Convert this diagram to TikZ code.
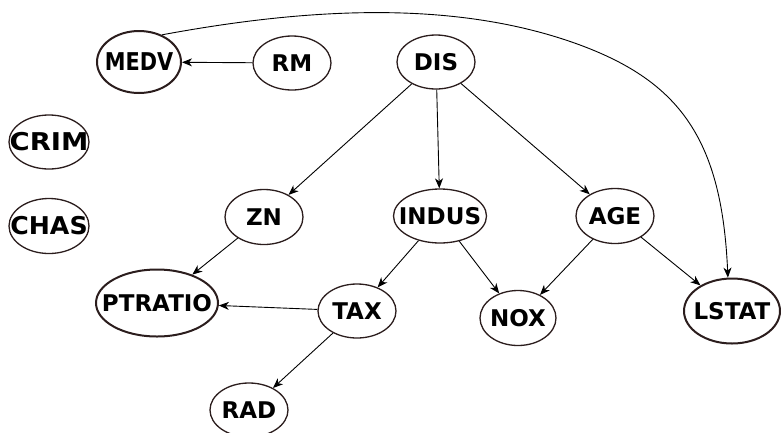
\documentclass[tikz,border=0pt]{standalone}
\usepackage{fontspec}
\usepackage{graphicx}
\setmainfont{DejaVu Sans}
\usetikzlibrary{shapes.geometric,arrows.meta}
\definecolor{rim}{HTML}{2B1D1D}
% label whose width does not widen the ellipse around it
\newcommand\vlabel[2][1]{\makebox[0pt][c]{\scalebox{#1}[1]{#2}}}
\begin{document}
\begin{tikzpicture}[x=1pt,y=-1pt,
  var/.style={ellipse,draw=rim,line width=1.3pt,inner sep=0pt,fill=white,
    font=\fontsize{23}{27}\selectfont\bfseries},
  big/.style={font=\fontsize{24.5}{28}\selectfont\bfseries},
  heavy/.style={line width=2pt},
  arr/.style={-{Stealth[length=10pt,width=8pt,inset=3pt]},line width=0.9pt,black}]
\useasboundingbox (0,0) rectangle (781,432);

% variables
\node[var,big,heavy,minimum width=84pt,minimum height=62pt] (MEDV) at (139,62) {\vlabel[0.85]{MEDV}};
\node[var,minimum width=78pt,minimum height=54pt] (RM) at (292,63) {\vlabel{RM}};
\node[var,minimum width=78pt,minimum height=54pt] (DIS) at (436,62) {\vlabel{DIS}};
\node[var,big,minimum width=80pt,minimum height=54pt] (CRIM) at (49,142) {\vlabel[1.12]{CRIM}};
\node[var,big,minimum width=80pt,minimum height=55pt] (CHAS) at (49,226) {\vlabel[1.03]{CHAS}};
\node[var,minimum width=78pt,minimum height=55pt] (ZN) at (264,217) {\vlabel{ZN}};
\node[var,minimum width=93pt,minimum height=54pt] (INDUS) at (440,216) {\vlabel{INDUS}};
\node[var,minimum width=78pt,minimum height=55pt] (AGE) at (615,216) {\vlabel{AGE}};
\node[var,heavy,minimum width=122pt,minimum height=67pt] (PTRATIO) at (157,303) {\vlabel{PTRATIO}};
\node[var,minimum width=78pt,minimum height=54pt] (TAX) at (357,311) {\vlabel{TAX}};
\node[var,minimum width=76pt,minimum height=55pt] (NOX) at (518,318) {\vlabel{NOX}};
\node[var,heavy,minimum width=96pt,minimum height=65pt] (LSTAT) at (732,311) {\vlabel{LSTAT}};
\node[var,minimum width=78pt,minimum height=54pt] (RAD) at (249,410) {\vlabel{RAD}};

% dependencies
\draw[arr] (RM) -- (MEDV);
\draw[arr] (DIS) -- (ZN);
\draw[arr] (DIS) -- (INDUS);
\draw[arr] (DIS) -- (AGE);
\draw[arr] (ZN) -- (PTRATIO);
\draw[arr] (INDUS) -- (TAX);
\draw[arr] (INDUS) -- (NOX);
\draw[arr] (AGE) -- (NOX);
\draw[arr] (AGE) -- (LSTAT);
\draw[arr] (TAX) -- (PTRATIO);
\draw[arr] (TAX) -- (RAD);
\draw[arr] (MEDV.50) .. controls (296,10) and (450,-3) .. (580,45)
  .. controls (680,82) and (722,140) .. (LSTAT.97);
\end{tikzpicture}
\end{document}
